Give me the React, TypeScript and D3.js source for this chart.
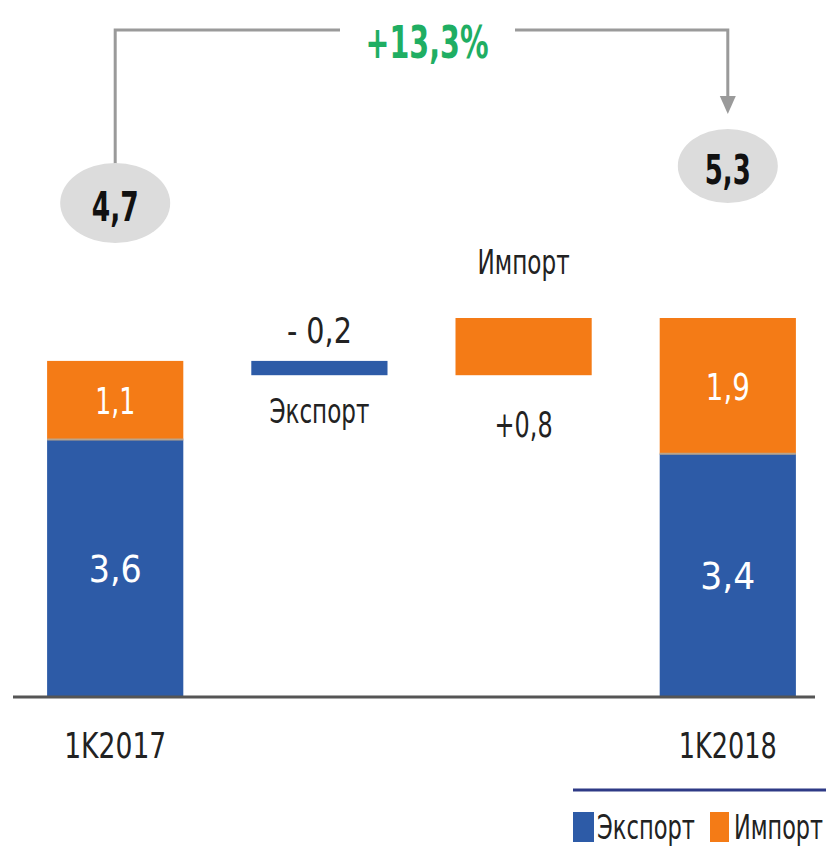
import React, { useLayoutEffect, useRef } from 'react';
import * as d3 from 'd3';

// values, bn USD
const steps = ['1K2017', 'exp', 'imp', '1K2018'];
const exportVals = [3.6, 3.4];
const importVals = [1.1, 1.9];
const totals = [4.7, 5.3];
const exportDelta = -0.2;
const importDelta = 0.8;
const growthLabel = '+13,3%';
const legendItems = ['Экспорт', 'Импорт'];

const BLUE = '#2d5ba7';
const ORANGE = '#f47b16';
const GRAY = '#9a9a9a';
const FONT = '"Liberation Sans Narrow", "DejaVu Sans Condensed", "Liberation Sans", Arial, sans-serif';

const fmt = (v: number) => v.toFixed(1).replace('.', ',');

// narrow text: squeezed horizontally to a given width, like the condensed font of the original
const T = ({ x, y, w, size = 36, anchor = 'middle', fill = '#222', bold = false, children }: any) => {
  const ref = useRef<SVGTextElement>(null);
  useLayoutEffect(() => {
    const el = ref.current;
    if (!el) return;
    const n = el.getComputedTextLength();
    const sx = n > 0 ? w / n : 1;
    el.setAttribute('transform', `translate(${x},${y}) scale(${sx},1)`);
  }, [x, y, w, size, children]);
  return (
    <text
      ref={ref}
      x={0}
      y={0}
      transform={`translate(${x},${y}) scale(0.8,1)`}
      textAnchor={anchor}
      fontSize={size}
      fontWeight={bold ? 'bold' : 'normal'}
      fill={fill}
    >
      {children}
    </text>
  );
};

const App = () => {
  const width = 833;
  const height = 850;

  const x = d3.scaleBand().domain(steps).range([13, 830]).paddingInner(0.333).paddingOuter(0.167);
  const y = d3.scaleLinear().domain([0, 5.3]).range([697, 318]);
  const bw = x.bandwidth();

  const xc = (s: string) => (x(s) as number) + bw / 2;

  // waterfall levels
  const afterExport = totals[0] + exportDelta;
  const afterImport = afterExport + importDelta;

  const cx0 = xc('1K2017');
  const cx1 = xc('1K2018');

  const valW = [[53, 40], [55, 44]];
  const catW = [102, 98];

  return (
    <svg width={width} height={height} style={{ position: 'absolute', left: 0, top: 0 }}>
      <g fontFamily={FONT}>
        {/* growth bracket */}
        <path d={`M${cx0},168 V30 H340`} fill="none" stroke={GRAY} strokeWidth={3} />
        <path d={`M515,30 H${cx1} V100`} fill="none" stroke={GRAY} strokeWidth={3} />
        <path d={`M${cx1 - 8},96 L${cx1 + 8},96 L${cx1},114 Z`} fill={GRAY} />
        <T x={427} y={58} w={123} size={44} bold fill="#1fae63">{growthLabel}</T>

        {/* total bubbles */}
        <ellipse cx={cx0} cy={203} rx={55} ry={40} fill="#dcdcdc" />
        <T x={cx0} y={221} w={47} size={40} bold fill="#111">{fmt(totals[0])}</T>
        <ellipse cx={cx1} cy={166} rx={50} ry={37} fill="#dcdcdc" />
        <T x={cx1} y={184} w={46} size={40} bold fill="#111">{fmt(totals[1])}</T>

        {/* stacked bars */}
        {[0, 1].map(i => {
          const s = i === 0 ? '1K2017' : '1K2018';
          const x0 = x(s) as number;
          const yExp = y(exportVals[i]);
          const yTot = y(exportVals[i] + importVals[i]);
          return (
            <g key={s}>
              <rect x={x0} y={yExp} width={bw} height={y(0) - yExp} fill={BLUE} />
              <rect x={x0} y={yTot} width={bw} height={yExp - yTot} fill={ORANGE} />
              <line x1={x0} x2={x0 + bw} y1={yExp} y2={yExp} stroke="#b9a48c" strokeWidth={2} />
              <T x={x0 + bw / 2} y={(yExp + y(0)) / 2 + 14} w={valW[i][0]} size={38} fill="#fff">
                {fmt(exportVals[i])}
              </T>
              <T x={x0 + bw / 2} y={(yExp + yTot) / 2 + 14} w={valW[i][1]} size={38} fill="#fff">
                {fmt(importVals[i])}
              </T>
              <T x={x0 + bw / 2} y={758} w={catW[i]} size={36}>{s}</T>
            </g>
          );
        })}

        {/* export change */}
        <rect x={x('exp')} y={y(totals[0])} width={bw} height={y(afterExport) - y(totals[0])} fill={BLUE} />
        <T x={xc('exp')} y={y(totals[0]) - 18} w={65} size={36}>
          {'- ' + fmt(Math.abs(exportDelta))}
        </T>
        <T x={xc('exp')} y={y(afterExport) + 48} w={100} size={34}>{legendItems[0]}</T>

        {/* import change */}
        <rect x={x('imp')} y={y(afterImport)} width={bw} height={y(afterExport) - y(afterImport)} fill={ORANGE} />
        <T x={xc('imp')} y={y(afterImport) - 44} w={92} size={34}>{legendItems[1]}</T>
        <T x={xc('imp')} y={y(afterExport) + 62} w={58} size={36}>{'+' + fmt(importDelta)}</T>

        {/* baseline */}
        <line x1={13} x2={815} y1={y(0)} y2={y(0)} stroke="#555" strokeWidth={3} />

        {/* legend */}
        <line x1={573} x2={826} y1={790} y2={790} stroke="#2e3a86" strokeWidth={3} />
        <rect x={573} y={812} width={21} height={30} fill={BLUE} />
        <T x={597} y={839} w={98} size={33} anchor="start">{legendItems[0]}</T>
        <rect x={710} y={812} width={19} height={30} fill={ORANGE} />
        <T x={734} y={839} w={89} size={33} anchor="start">{legendItems[1]}</T>
      </g>
    </svg>
  );
};

export default App;
